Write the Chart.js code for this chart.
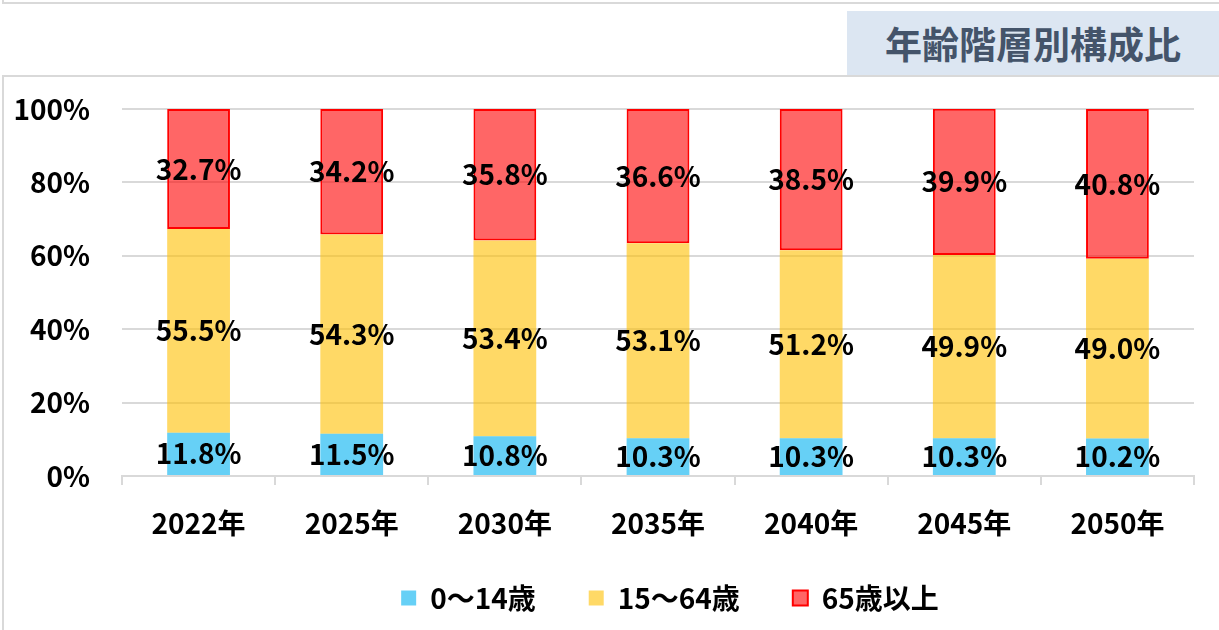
<!DOCTYPE html>
<html lang="ja">
<head>
<meta charset="utf-8">
<title>年齢階層別構成比</title>
<script src="https://cdn.jsdelivr.net/npm/chart.js@4.4.1/dist/chart.umd.min.js"></script>
<style>
  html, body { margin: 0; padding: 0; background: #fff; }
  body { width: 1219px; height: 630px; position: relative; overflow: hidden;
         font-family: "Noto Sans CJK JP", sans-serif; }
  .top-frame { position: absolute; left: 2px; top: -20px; width: 1240px; height: 24px;
               box-sizing: border-box; border: 2px solid #d9d9d9; }
  .frame { position: absolute; left: 2px; top: 75px; width: 1240px; height: 600px;
           box-sizing: border-box; border: 2px solid #d9d9d9; }
  .title { position: absolute; left: 847px; top: 11px; width: 372px; height: 64px;
           background: #dce6f2; color: #44546a; font-weight: bold; font-size: 37px;
           line-height: 64px; text-align: center; }
  #chart { position: absolute; left: 0; top: 0; }
</style>
</head>
<body>
<div class="top-frame"></div>
<div class="frame"></div>
<div class="title">年齢階層別構成比</div>
<canvas id="chart" width="1219" height="630"></canvas>
<script>
// 年次
const years = ['2022年', '2025年', '2030年', '2035年', '2040年', '2045年', '2050年'];
// 年齢3区分の構成比(%)
const young = [11.8, 11.5, 10.8, 10.3, 10.3, 10.3, 10.2];
const working = [55.5, 54.3, 53.4, 53.1, 51.2, 49.9, 49.0];
const elderly = [32.7, 34.2, 35.8, 36.6, 38.5, 39.9, 40.8];
const seriesNames = ['0～14歳', '15～64歳', '65歳以上'];
const yTicks = [0, 20, 40, 60, 80, 100];

const FONT = '"Noto Sans CJK JP", sans-serif';
Chart.defaults.font.family = FONT;
Chart.defaults.color = '#000';

// 各区分の中央に数値を表示
const barLabels = {
  id: 'barLabels',
  afterDatasetsDraw(chart) {
    const ctx = chart.ctx;
    ctx.save();
    ctx.font = 'bold 28px ' + FONT;
    ctx.fillStyle = '#000';
    ctx.textAlign = 'center';
    ctx.textBaseline = 'middle';
    chart.data.datasets.forEach((ds, i) => {
      chart.getDatasetMeta(i).data.forEach((bar, j) => {
        const p = bar.getProps(['x', 'y', 'base'], true);
        ctx.fillText(ds.data[j].toFixed(1) + '%', p.x, (p.y + p.base) / 2);
      });
    });
    ctx.restore();
  }
};

// 凡例を少し右寄せにし、年ラベルが切れないよう x 軸の描画域を広げる
const layoutTweak = {
  id: 'layoutTweak',
  afterLayout(chart) {
    const lg = chart.legend;
    if (lg) {
      lg.left += 73;
      lg.right += 73;
    }
    chart.scales.x.bottom += 20;
  }
};

new Chart(document.getElementById('chart'), {
  type: 'bar',
  data: {
    labels: years,
    datasets: [
      { label: seriesNames[0], data: young, backgroundColor: 'rgba(0,176,240,0.6)',
        borderColor: 'rgba(0,176,240,0.6)', borderWidth: 0 },
      { label: seriesNames[1], data: working, backgroundColor: 'rgba(255,192,0,0.6)',
        borderColor: 'rgba(255,192,0,0.6)', borderWidth: 0 },
      { label: seriesNames[2], data: elderly, backgroundColor: 'rgba(255,0,0,0.6)',
        borderColor: '#ff0000', borderWidth: 2, borderSkipped: false }
    ]
  },
  options: {
    responsive: false,
    animation: false,
    devicePixelRatio: 1,
    layout: { padding: { top: 109, right: 25, bottom: 8, left: 0 } },
    datasets: { bar: { categoryPercentage: 1, barPercentage: 0.41 } },
    scales: {
      x: {
        stacked: true,
        grid: { offset: true, drawOnChartArea: false, drawTicks: true, tickLength: 9,
                color: '#d9d9d9', lineWidth: 2 },
        border: { display: true, color: '#d9d9d9', width: 2 },
        ticks: { padding: 22, font: { size: 28, weight: 'bold' }, color: '#000' },
        afterFit(scale) { scale.height = 55; }
      },
      y: {
        stacked: true,
        min: 0,
        max: 100,
        afterBuildTicks(scale) { scale.ticks = yTicks.map(v => ({ value: v })); },
        grid: { color: '#d9d9d9', lineWidth: 2, drawTicks: false },
        border: { display: false },
        ticks: { padding: 32, font: { size: 28, weight: 'bold' }, color: '#000',
                 callback: v => v + '%' },
        afterFit(scale) { scale.width = 122; }
      }
    },
    plugins: {
      legend: {
        position: 'bottom',
        labels: { boxWidth: 15, boxHeight: 15, padding: 53, color: '#000',
                  font: { size: 28, weight: 'bold' } }
      },
      tooltip: { enabled: false }
    }
  },
  plugins: [barLabels, layoutTweak]
});
</script>
</body>
</html>
